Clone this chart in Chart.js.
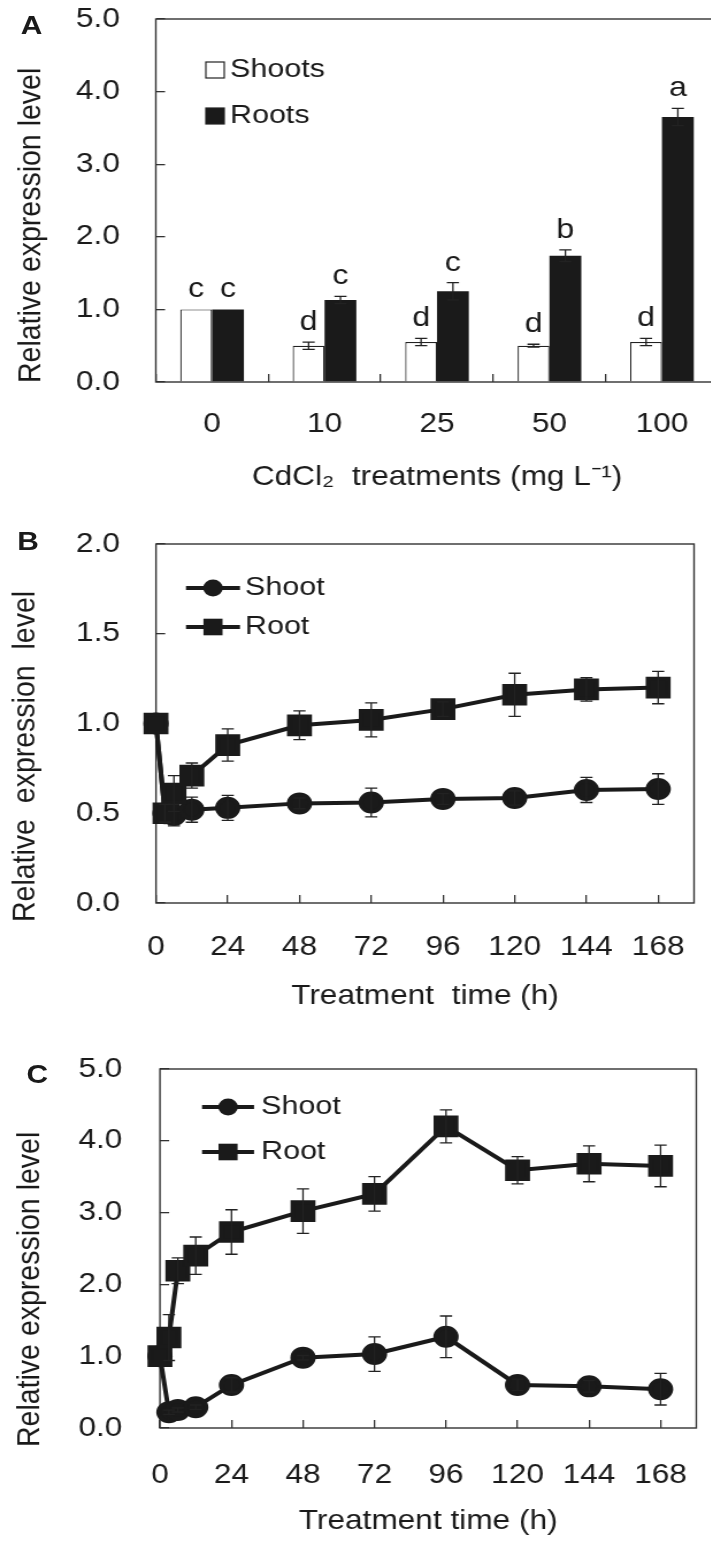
<!DOCTYPE html>
<html>
<head>
<meta charset="utf-8">
<script src="https://cdn.jsdelivr.net/npm/chart.js@4.4.0/dist/chart.umd.min.js"></script>
<style>
body { margin:0; width:711px; height:1542px; overflow:hidden; background:#fff; }
#wrap { position:absolute; left:0; top:0; width:630px; height:1542px; transform:scaleX(1.15); transform-origin:0 0; }
#wrap canvas { position:absolute; left:0; }
.tag { position:absolute; font-family:"Liberation Sans", Arial, sans-serif; font-weight:bold; font-size:26px; color:#1a1a1a; line-height:1; z-index:2; }
</style>
</head>
<body>
<div id="wrap">
  <canvas id="chartA" width="628" height="500" style="top:0px"></canvas>
  <canvas id="chartB" width="620" height="520" style="top:510px"></canvas>
  <canvas id="chartC" width="622" height="512" style="top:1030px"></canvas>
  <div class="tag" style="left:18px;top:12px">A</div>
  <div class="tag" style="left:15px;top:528px">B</div>
  <div class="tag" style="left:23px;top:1061px">C</div>
</div>
<script>
// panel A - CdCl2 concentration
const concentrations = ['0', '10', '25', '50', '100'];
const shootsA = [1.00, 0.50, 0.55, 0.50, 0.55];
const shootsAErr = [0, 0.05, 0.05, 0.02, 0.05];
const rootsA = [1.00, 1.13, 1.25, 1.74, 3.65];
const rootsAErr = [0, 0.05, 0.12, 0.08, 0.12];
const shootsLetters = ['c', 'd', 'd', 'd', 'd'];
const rootsLetters = ['c', 'c', 'c', 'b', 'a'];
const yTicksA = [0, 1, 2, 3, 4, 5];

// panels B and C - time course
const hours = [0, 3, 6, 12, 24, 48, 72, 96, 120, 144, 168];
const hourTicks = [0, 24, 48, 72, 96, 120, 144, 168];

const shootB = [1.00, 0.50, 0.49, 0.52, 0.53, 0.555, 0.56, 0.58, 0.585, 0.63, 0.635];
const shootBErr = [0, 0.05, 0.06, 0.07, 0.07, 0.03, 0.08, 0.03, 0.04, 0.07, 0.085];
const rootB = [1.00, 0.50, 0.61, 0.71, 0.88, 0.99, 1.02, 1.08, 1.16, 1.19, 1.20];
const rootBErr = [0, 0.05, 0.10, 0.07, 0.09, 0.08, 0.095, 0.04, 0.12, 0.065, 0.09];
const yTicksB = [0, 0.5, 1.0, 1.5, 2.0];

const shootC = [1.00, 0.22, 0.25, 0.29, 0.60, 0.98, 1.03, 1.27, 0.60, 0.58, 0.54];
const shootCErr = [0, 0.03, 0.03, 0.03, 0.10, 0.03, 0.24, 0.29, 0.08, 0.08, 0.22];
const rootC = [1.00, 1.26, 2.19, 2.40, 2.73, 3.02, 3.26, 4.20, 3.59, 3.68, 3.65];
const rootCErr = [0, 0.32, 0.18, 0.26, 0.31, 0.31, 0.24, 0.23, 0.19, 0.25, 0.29];
const yTicksC = [0, 1, 2, 3, 4, 5];

const FONT = '"Liberation Sans", Arial, sans-serif';
const INK = '#1a1a1a';
Chart.defaults.font.family = FONT;
Chart.defaults.color = INK;
Chart.defaults.animation = false;

function points(xs, ys) {
    return xs.map((x, i) => ({x: x, y: ys[i]}));
}

// box round the plot area
const framePlugin = {
    id: 'frame',
    beforeDatasetsDraw(chart) {
        const ctx = chart.ctx, a = chart.chartArea;
        ctx.save();
        ctx.strokeStyle = '#333';
        ctx.lineWidth = 1.4;
        ctx.strokeRect(a.left, a.top, a.right - a.left, a.bottom - a.top);
        ctx.restore();
    }
};

// error bars and significance letters
const errorPlugin = {
    id: 'errors',
    afterDatasetsDraw(chart) {
        const ctx = chart.ctx, y = chart.scales.y;
        chart.data.datasets.forEach((ds, i) => {
            if (!ds.errors) return;
            const meta = chart.getDatasetMeta(i);
            meta.data.forEach((el, j) => {
                const raw = ds.data[j];
                const v = typeof raw === 'object' ? raw.y : raw;
                const e = ds.errors[j];
                const x = el.x;
                ctx.save();
                if (e) {
                    const top = y.getPixelForValue(v + e);
                    const bot = y.getPixelForValue(v - e);
                    ctx.strokeStyle = '#222';
                    ctx.lineWidth = 1.3;
                    ctx.beginPath();
                    ctx.moveTo(x, top); ctx.lineTo(x, bot);
                    ctx.moveTo(x - 5.3, top); ctx.lineTo(x + 5.3, top);
                    ctx.moveTo(x - 5.3, bot); ctx.lineTo(x + 5.3, bot);
                    ctx.stroke();
                }
                if (ds.letters) {
                    ctx.fillStyle = INK;
                    ctx.font = '28px ' + FONT;
                    ctx.textAlign = 'center';
                    ctx.textBaseline = 'alphabetic';
                    ctx.fillText(ds.letters[j], x, y.getPixelForValue(v + (e || 0)) - 12);
                }
                ctx.restore();
            });
        });
    }
};

// legend drawn inside the plot box
const insideLegend = {
    id: 'insideLegend',
    afterDraw(chart, args, o) {
        if (!o || !o.rows) return;
        const ctx = chart.ctx, a = chart.chartArea;
        ctx.save();
        chart.data.datasets.forEach((ds, i) => {
            const yy = a.top + o.rows[i];
            if (o.box) {
                ctx.fillStyle = ds.backgroundColor;
                ctx.strokeStyle = '#222';
                ctx.lineWidth = 1.2;
                ctx.fillRect(o.boxX - 8, yy - 8, 16, 16);
                ctx.strokeRect(o.boxX - 8, yy - 8, 16, 16);
            } else {
                ctx.strokeStyle = INK;
                ctx.lineWidth = 4;
                ctx.beginPath();
                ctx.moveTo(o.x0, yy); ctx.lineTo(o.x1, yy);
                ctx.stroke();
                const xm = (o.x0 + o.x1) / 2;
                ctx.fillStyle = INK;
                ctx.beginPath();
                if (ds.pointStyle === 'rect') {
                    ctx.rect(xm - 8.3, yy - 8.3, 16.6, 16.6);
                } else {
                    ctx.arc(xm, yy, 8.5, 0, Math.PI * 2);
                }
                ctx.fill();
            }
            ctx.fillStyle = INK;
            ctx.font = '26.5px ' + FONT;
            ctx.textAlign = 'left';
            ctx.textBaseline = 'middle';
            ctx.fillText(ds.label, o.textX, yy);
        });
        ctx.restore();
    }
};

// rotated y title, set from its lower end
const yTitle = {
    id: 'yTitle',
    afterDraw(chart, args, o) {
        if (!o || !o.text) return;
        const ctx = chart.ctx;
        ctx.save();
        ctx.translate(o.x, o.bottom);
        ctx.rotate(-Math.PI / 2);
        ctx.fillStyle = INK;
        ctx.font = '28.5px ' + FONT;
        ctx.textAlign = 'left';
        ctx.textBaseline = 'middle';
        ctx.fillText(o.text, 0, 0);
        ctx.restore();
    }
};

function yAxis(tickList, width, pad) {
    return {
        min: tickList[0],
        max: tickList[tickList.length - 1],
        afterBuildTicks: s => { s.ticks = tickList.map(v => ({value: v})); },
        afterFit: s => { s.width = width; s.paddingTop = 0; s.paddingBottom = 0; },
        border: {display: false},
        grid: {drawOnChartArea: false, drawTicks: true, tickLength: -8, color: '#333', lineWidth: 1.3},
        ticks: {padding: pad, font: {size: 27.5}, color: INK, callback: v => Number(v).toFixed(1)}
    };
}

function xTitle(text, pb) {
    return {display: true, text: text, color: INK, font: {size: 27.5}, padding: {top: 0, bottom: pb}};
}

// A
new Chart(document.getElementById('chartA'), {
    type: 'bar',
    data: {
        labels: concentrations,
        datasets: [{
            label: 'Shoots',
            data: shootsA,
            errors: shootsAErr,
            letters: shootsLetters,
            backgroundColor: '#ffffff',
            borderColor: '#222',
            borderWidth: 1.2
        }, {
            label: 'Roots',
            data: rootsA,
            errors: rootsAErr,
            letters: rootsLetters,
            backgroundColor: '#1a1a1a',
            borderColor: '#1a1a1a',
            borderWidth: 0
        }]
    },
    options: {
        responsive: false,
        categoryPercentage: 0.566,
        barPercentage: 1.0,
        layout: {padding: {top: 19, right: 3.5, bottom: 0, left: 0}},
        plugins: {
            legend: {display: false},
            tooltip: {enabled: false},
            insideLegend: {box: true, boxX: 187, textX: 200, rows: [51, 97]},
            yTitle: {text: 'Relative expression level', x: 27.4, bottom: 383}
        },
        scales: {
            x: {
                afterFit: s => { s.height = 118; s.paddingLeft = 0; s.paddingRight = 0; },
                border: {display: false},
                grid: {drawOnChartArea: false, drawTicks: true, tickLength: -8, color: '#333', lineWidth: 1.3},
                ticks: {padding: 33.5, font: {size: 27.5}, color: INK, maxRotation: 0},
                title: xTitle('CdCl\u2082  treatments (mg L\u207B\u00B9)', 6)
            },
            y: yAxis(yTicksA, 135.5, 39.3)
        }
    },
    plugins: [framePlugin, errorPlugin, insideLegend, yTitle]
});

function timeChart(id, shoot, shootErr, root, rootErr, yTicks, cfg) {
    new Chart(document.getElementById(id), {
        type: 'line',
        data: {
            datasets: [{
                label: 'Shoot',
                data: points(hours, shoot),
                errors: shootErr,
                order: 2,
                borderColor: INK,
                backgroundColor: INK,
                borderWidth: 4,
                pointStyle: 'circle',
                pointRadius: 9,
                pointBackgroundColor: INK,
                pointBorderColor: INK,
                clip: false
            }, {
                label: 'Root',
                data: points(hours, root),
                errors: rootErr,
                order: 1,
                borderColor: INK,
                backgroundColor: INK,
                borderWidth: 4,
                pointStyle: 'rect',
                pointRadius: 12.5,
                pointBackgroundColor: INK,
                pointBorderColor: INK,
                clip: false
            }]
        },
        options: {
            responsive: false,
            layout: {padding: {top: cfg.top, right: cfg.right, bottom: 0, left: 0}},
            plugins: {
                legend: {display: false},
                tooltip: {enabled: false},
                insideLegend: cfg.legend,
                yTitle: cfg.yTitle
            },
            scales: {
                x: {
                    type: 'linear',
                    min: 0,
                    max: 180,
                    afterBuildTicks: s => { s.ticks = hourTicks.map(v => ({value: v})); },
                    afterFit: s => { s.height = cfg.xHeight; s.paddingLeft = 0; s.paddingRight = 0; },
                    border: {display: false},
                    grid: {drawOnChartArea: false, drawTicks: true, tickLength: -8, color: '#333', lineWidth: 1.3},
                    ticks: {padding: cfg.xPad, font: {size: 27.5}, color: INK, maxRotation: 0, autoSkip: false},
                    title: xTitle(cfg.xText, cfg.xTitlePad)
                },
                y: yAxis(yTicks, cfg.yWidth, cfg.yPad)
            }
        },
        plugins: [framePlugin, errorPlugin, insideLegend, yTitle]
    });
}

// B
timeChart('chartB', shootB, shootBErr, rootB, rootBErr, yTicksB, {
    top: 34, right: 4.3, xHeight: 127, xPad: 35.5, xTitlePad: 17.5,
    xText: 'Treatment  time (h)', yWidth: 135.65, yPad: 39.3,
    legend: {x0: 161.7, x1: 208.7, textX: 213, rows: [44, 83]},
    yTitle: {text: 'Relative  expression  level', x: 21.7, bottom: 412}
});

// C
timeChart('chartC', shootC, shootCErr, rootC, rootCErr, yTicksC, {
    top: 39, right: 2.9, xHeight: 114, xPad: 38.5, xTitlePad: 4.5,
    xText: 'Treatment time (h)', yWidth: 139.1, yPad: 40.7,
    legend: {x0: 175.7, x1: 220.9, textX: 227, rows: [38, 83]},
    yTitle: {text: 'Relative expression level', x: 26.5, bottom: 417}
});
</script>
</body>
</html>
